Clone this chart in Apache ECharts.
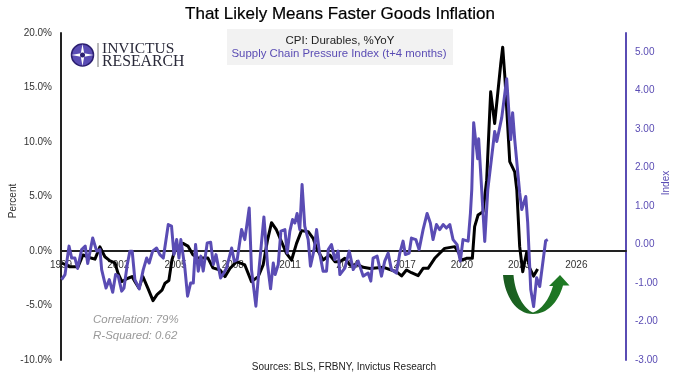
<!DOCTYPE html>
<html>
<head>
<meta charset="utf-8">
<style>
html,body{margin:0;padding:0;background:#fff;}
#chart{width:680px;height:382px;}
</style>
<script src="https://cdn.jsdelivr.net/npm/echarts@6/dist/echarts.min.js"></script>
</head>
<body>
<div id="chart"></div>
<script>
// values, x in decimal years
const cpiDates = [1999.05,1999.47,1999.89,2000.15,2000.62,2000.78,2001.04,2001.30,2001.57,2001.83,2001.98,2002.19,2002.51,2002.72,2002.87,2003.08,2003.29,2003.55,2003.82,2004.03,2004.29,2004.45,2004.65,2004.81,2004.97,2005.39,2005.65,2005.91,2006.17,2006.70,2006.96,2007.33,2007.59,2007.85,2008.2,2008.63,2008.98,2009.33,2009.59,2009.82,2010.03,2010.29,2010.55,2010.81,2011.08,2011.34,2011.6,2011.95,2012.21,2012.39,2012.73,2013.08,2013.35,2013.61,2013.87,2014.13,2014.57,2014.83,2015.2,2015.9,2016.57,2016.84,2017.1,2017.36,2017.71,2017.97,2018.23,2018.58,2018.84,2019.1,2019.63,2019.85,2019.97,2020.24,2020.55,2020.67,2020.85,2021.11,2021.2,2021.3,2021.51,2021.72,2022.04,2022.14,2022.25,2022.51,2022.77,2022.88,2023.03,2023.19,2023.4,2023.55,2023.76,2023.97];
const cpiValues = [-1.1,-1.45,-1.45,-0.37,-0.67,-0.75,0.38,-0.53,-0.9,-1.1,-2.0,-2.8,-2.5,-2.35,-2.8,-3.4,-2.35,-3.4,-4.55,-4.0,-3.6,-2.95,-2.7,-0.85,0.1,0.7,0.45,-0.35,-0.65,-0.65,-1.55,-1.74,-2.35,-1.6,-0.98,-1.28,-2.81,-2.35,-1.28,1.0,2.6,1.93,0.86,-0.21,-0.83,0.7,1.87,1.77,1.16,0.24,-0.83,-0.37,-0.98,-0.98,-0.67,-1.28,-1.28,-1.5,-1.6,-1.5,-1.9,-2.29,-1.74,-1.99,-2.26,-1.59,-1.59,-0.67,-0.21,0.24,0.4,-0.21,-0.83,-0.67,-0.67,2.23,3.3,3.6,3.6,6.5,14.6,11.7,17.2,18.7,16.1,8.2,7.25,5.6,0.4,-1.9,-0.1,-1.56,-2.3,-1.65];

const scpiDates = [1999.03,1999.21,1999.42,1999.56,1999.73,1999.87,2000.08,2000.27,2000.40,2000.66,2000.87,2001.04,2001.13,2001.36,2001.53,2001.71,2001.86,2002.00,2002.18,2002.30,2002.47,2002.61,2002.73,2002.87,2003.10,2003.31,2003.49,2003.62,2003.80,2004.01,2004.18,2004.36,2004.62,2004.79,2004.92,2005.06,2005.18,2005.28,2005.49,2005.63,2005.79,2005.93,2006.05,2006.19,2006.33,2006.45,2006.66,2006.84,2006.98,2007.12,2007.36,2007.53,2007.67,2007.94,2008.08,2008.23,2008.46,2008.63,2008.86,2008.98,2009.21,2009.38,2009.63,2009.82,2009.98,2010.12,2010.22,2010.38,2010.52,2010.73,2010.85,2010.99,2011.13,2011.25,2011.37,2011.51,2011.63,2011.77,2011.95,2012.07,2012.26,2012.39,2012.53,2012.73,2012.91,2013.00,2013.17,2013.35,2013.52,2013.61,2013.87,2014.10,2014.31,2014.57,2014.83,2015.09,2015.23,2015.35,2015.56,2015.79,2015.96,2016.14,2016.31,2016.57,2016.75,2016.92,2017.04,2017.24,2017.36,2017.59,2017.76,2017.97,2018.18,2018.35,2018.49,2018.67,2018.84,2019.02,2019.19,2019.37,2019.54,2019.75,2019.92,2020.06,2020.33,2020.45,2020.52,2020.62,2020.83,2020.88,2021.04,2021.09,2021.20,2021.36,2021.72,2021.83,2022.09,2022.19,2022.35,2022.56,2022.66,2022.77,2023.03,2023.14,2023.35,2023.45,2023.61,2023.76,2023.92,2024.08,2024.39,2024.50];
const scpiValues = [-0.91,-0.78,-0.04,-0.35,-0.35,-0.62,-0.13,-0.04,-0.49,0.17,-0.17,-0.13,-0.65,-1.13,-0.91,-1.24,-0.78,-0.82,-1.21,-1.13,-0.52,-0.17,-0.17,-0.91,-1.15,-0.65,-0.35,-0.48,-0.17,-0.09,-0.26,-0.35,0.52,0.48,-0.26,0.13,-0.35,0.13,-0.61,-1.34,-1.00,-1.00,0,-0.69,-0.30,-0.69,0.04,0.06,-0.52,-0.26,-0.87,-0.74,-0.61,-0.09,-0.43,-0.39,0.39,0.13,0.95,-0.65,-1.60,-0.61,0.72,-0.52,-1.15,-0.48,-0.78,-0.52,0.35,0.39,-0.22,0.35,0.65,0.56,0.81,0.39,1.56,0.48,0.13,-0.56,-0.13,0.39,-0.17,-0.69,-0.69,-0.13,0,-0.39,-0.17,-0.78,-0.61,-0.17,-0.65,-0.43,-0.82,-0.74,-0.95,-0.35,-0.30,-0.82,-0.43,-0.22,-0.65,-0.74,-0.22,0.09,-0.26,-0.22,0.17,0.13,-0.13,0.39,0.81,0.56,0.13,0.52,0.39,0.52,0.43,0.52,0.13,0,-0.43,0.13,0.09,0.82,1.43,3.17,2.23,2.75,1.43,0.99,0.08,1.43,2.94,2.68,3.30,3.35,4.31,2.73,3.43,2.73,1.35,0.91,1.25,0.57,-1.17,-1.61,-0.86,-1.09,0.10,0.13];

const titleText = 'That Likely Means Faster Goods Inflation';
const legendCpi = 'CPI: Durables, %YoY';
const legendScpi = 'Supply Chain Pressure Index (t+4 months)';
const statLines = ['Correlation: 79%','R-Squared: 0.62'];
const sourceText = 'Sources: BLS, FRBNY, Invictus Research';

const purple = '#5a4cb4';
const font = '"Liberation Sans", Arial, sans-serif';

function pairs(xs,ys){
    return xs.map((x,i)=>[x,ys[i]]);
}

// the graphic component has no plain path type, so register the two shapes
echarts.graphic.registerShape('uArrow',echarts.graphic.extendPath('M503 275 L513.5 275 C515 294 524 309 533 312.5 C541 310 549 300 553 286 L549 286 L560 275 L569.5 285.5 L563 285.5 C558 303 547 314 533 314 C516 314 505 296 503 275 Z'));
echarts.graphic.registerShape('logoStar',echarts.graphic.extendPath('M82.5 44 L84.2 53.3 L93.5 55 L84.2 56.7 L82.5 66 L80.8 56.7 L71.5 55 L80.8 53.3 Z'));

let chart = echarts.init(document.getElementById('chart'),null,{renderer:'canvas'});

chart.setOption({
    animation:false,
    backgroundColor:'#fff',
    textStyle:{fontFamily:font},
    grid:{left:61,right:54,top:33,height:327,containLabel:false},
    xAxis:{
        type:'value',
        position:'bottom',
        // axis sits on the 0% line, 109px above the bottom of the grid
        offset:-109,
        min:1999,
        max:2028.6,
        interval:3,
        splitLine:{show:false},
        axisTick:{show:false},
        axisLine:{onZero:false,lineStyle:{color:'#222',width:2}},
        axisLabel:{
            showMaxLabel:false,
            showMinLabel:true,
            color:'#333',
            fontSize:10,
            margin:9,
            formatter:v=>String(v)
        }
    },
    yAxis:[{
        type:'value',
        position:'left',
        min:-10,
        max:20,
        interval:5,
        splitLine:{show:false},
        axisTick:{show:false},
        axisLine:{show:true,onZero:false,lineStyle:{color:'#222',width:2}},
        axisLabel:{color:'#333',fontSize:10,margin:9,formatter:v=>v.toFixed(1)+'%'}
    },{
        type:'value',
        position:'right',
        min:-3,
        max:5.5,
        interval:1,
        splitLine:{show:false},
        axisTick:{show:false},
        axisLine:{show:true,onZero:false,lineStyle:{color:purple,width:2}},
        axisLabel:{color:purple,fontSize:10,margin:9,showMaxLabel:false,formatter:v=>v.toFixed(2)}
    }],
    series:[{
        name:'CPI: Durables',
        type:'line',
        yAxisIndex:0,
        showSymbol:false,
        symbol:'none',
        z:2,
        lineStyle:{color:'#000',width:3,join:'round'},
        data:pairs(cpiDates,cpiValues)
    },{
        name:'Supply Chain Pressure Index',
        type:'line',
        yAxisIndex:1,
        showSymbol:false,
        symbol:'none',
        z:3,
        lineStyle:{color:purple,width:3,join:'round'},
        data:pairs(scpiDates,scpiValues)
    }],
    graphic:[
        {type:'text',x:340,y:14,style:{text:titleText,fill:'#000',stroke:'#000',lineWidth:0.2,font:'17px '+font,align:'center',verticalAlign:'middle'}},
        {type:'rect',shape:{x:227,y:29,width:226,height:36},style:{fill:'#f2f2f2'},z:1},
        {type:'text',x:340,y:41,z:5,style:{text:legendCpi,fill:'#222',font:'11.5px '+font,align:'center',verticalAlign:'middle'}},
        {type:'text',x:339,y:54,z:5,style:{text:legendScpi,fill:purple,font:'11.4px '+font,align:'center',verticalAlign:'middle'}},

        // logo
        {type:'circle',shape:{cx:82.5,cy:55,r:11},style:{fill:'#5a4cb4',stroke:'#2c1f70',lineWidth:1.5}},
        {type:'logoStar',style:{fill:'#fff'}},
        {type:'circle',shape:{cx:82.5,cy:55,r:2.5},style:{fill:'#2c1f70'}},
        {type:'line',shape:{x1:98,y1:43,x2:98,y2:67},style:{stroke:'#777',lineWidth:1}},
        {type:'text',x:102,y:49,style:{text:'INVICTUS',fill:'#2a2a3a',font:'15.5px "Liberation Serif", serif',align:'left',verticalAlign:'middle'}},
        {type:'text',x:102,y:61.5,style:{text:'RESEARCH',fill:'#2a2a3a',font:'15.8px "Liberation Serif", serif',align:'left',verticalAlign:'middle'}},

        {type:'text',x:13,y:201,rotation:Math.PI/2,style:{text:'Percent',fill:'#333',font:'10px '+font,align:'center',verticalAlign:'middle'}},
        {type:'text',x:666,y:183,rotation:Math.PI/2,style:{text:'Index',fill:purple,font:'10px '+font,align:'center',verticalAlign:'middle'}},

        {type:'text',x:93,y:320,style:{text:statLines[0],fill:'#999',font:'italic 11.5px '+font,align:'left',verticalAlign:'middle'}},
        {type:'text',x:93,y:335.5,style:{text:statLines[1],fill:'#999',font:'italic 11.5px '+font,align:'left',verticalAlign:'middle'}},
        {type:'text',x:344,y:367,style:{text:sourceText,fill:'#222',font:'10px '+font,align:'center',verticalAlign:'middle'}},

        // green u-turn arrow
        {type:'uArrow',z:1,style:{fill:new echarts.graphic.LinearGradient(0,0,1,0,[{offset:0,color:'#1a5a20'},{offset:0.5,color:'#1c6e22'},{offset:1,color:'#1f7d24'}])}}
    ]
});
</script>
</body>
</html>
